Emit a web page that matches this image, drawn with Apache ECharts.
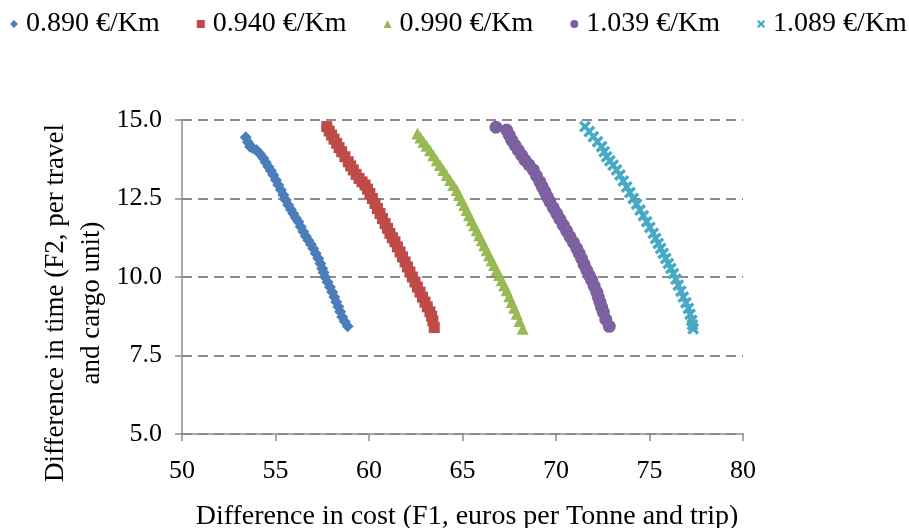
<!DOCTYPE html>
<html>
<head>
<meta charset="utf-8">
<script src="https://cdn.jsdelivr.net/npm/echarts@6/dist/echarts.min.js"></script>
<style>
html,body{margin:0;padding:0;background:#fff;}
#chart{width:909px;height:528px;}
</style>
</head>
<body>
<div id="chart"></div>
<script>
var seriesNames = ['0.890 €/Km', '0.940 €/Km', '0.990 €/Km', '1.039 €/Km', '1.089 €/Km'];
var xTicks = [50, 55, 60, 65, 70, 75, 80];
var yTicks = [5.0, 7.5, 10.0, 12.5, 15.0];

var s0890 = [[53.41,14.45],[53.52,14.30],[53.64,14.15],[53.80,14.10],[53.99,14.04],[54.17,13.92],[54.35,13.78],[54.48,13.65],[54.62,13.51],[54.75,13.38],[54.88,13.25],[55.02,13.09],[55.15,12.93],[55.29,12.77],[55.42,12.61],[55.55,12.45],[55.68,12.29],[55.82,12.15],[55.95,12.02],[56.08,11.89],[56.22,11.76],[56.35,11.60],[56.49,11.44],[56.62,11.30],[56.75,11.17],[56.89,11.04],[57.02,10.91],[57.15,10.75],[57.29,10.59],[57.40,10.43],[57.50,10.27],[57.57,10.14],[57.65,10.00],[57.78,9.84],[57.91,9.68],[58.03,9.52],[58.15,9.36],[58.25,9.20],[58.36,9.05],[58.46,8.89],[58.57,8.73],[58.70,8.58],[58.86,8.43]];
var s0940 = [[57.74,14.79],[57.87,14.65],[58.00,14.52],[58.13,14.39],[58.27,14.26],[58.40,14.12],[58.54,13.99],[58.71,13.83],[58.89,13.67],[59.02,13.54],[59.16,13.41],[59.31,13.27],[59.47,13.14],[59.63,13.03],[59.79,12.93],[59.92,12.80],[60.05,12.66],[60.18,12.50],[60.32,12.34],[60.45,12.18],[60.59,12.02],[60.72,11.86],[60.86,11.70],[60.99,11.55],[61.12,11.39],[61.25,11.25],[61.39,11.12],[61.52,10.96],[61.66,10.80],[61.79,10.64],[61.93,10.48],[62.06,10.32],[62.19,10.16],[62.32,10.00],[62.46,9.84],[62.59,9.68],[62.73,9.52],[62.86,9.36],[62.99,9.20],[63.12,9.05],[63.26,8.89],[63.35,8.75],[63.42,8.60],[63.49,8.39]];
var s0990 = [[62.59,14.57],[62.75,14.44],[62.91,14.31],[63.08,14.18],[63.26,14.04],[63.44,13.88],[63.62,13.72],[63.79,13.57],[63.97,13.41],[64.15,13.25],[64.33,13.09],[64.51,12.93],[64.69,12.77],[64.82,12.61],[64.96,12.45],[65.09,12.29],[65.22,12.13],[65.35,11.97],[65.49,11.81],[65.62,11.65],[65.76,11.49],[65.89,11.33],[66.03,11.17],[66.16,11.01],[66.29,10.85],[66.42,10.69],[66.56,10.53],[66.69,10.38],[66.83,10.22],[66.96,10.06],[67.10,9.90],[67.23,9.74],[67.36,9.58],[67.50,9.39],[67.63,9.20],[67.76,9.02],[67.90,8.83],[68.05,8.60],[68.22,8.35]];
var s1039 = [[66.79,14.77],[67.36,14.68],[67.50,14.52],[67.63,14.36],[67.80,14.20],[67.98,14.04],[68.16,13.88],[68.34,13.72],[68.56,13.57],[68.79,13.41],[68.96,13.22],[69.14,13.03],[69.27,12.87],[69.41,12.71],[69.54,12.55],[69.68,12.39],[69.86,12.20],[70.04,12.02],[70.21,11.84],[70.39,11.65],[70.57,11.47],[70.75,11.28],[70.93,11.10],[71.11,10.91],[71.24,10.75],[71.37,10.59],[71.50,10.40],[71.64,10.22],[71.77,10.06],[71.91,9.90],[72.04,9.71],[72.18,9.52],[72.26,9.36],[72.35,9.20],[72.44,9.04],[72.53,8.88],[72.66,8.65],[72.85,8.43]];
var s1089 = [[71.55,14.79],[71.78,14.63],[72.00,14.47],[72.22,14.31],[72.44,14.15],[72.58,13.99],[72.71,13.83],[72.88,13.70],[73.06,13.56],[73.24,13.41],[73.42,13.25],[73.60,13.06],[73.78,12.87],[73.95,12.69],[74.13,12.50],[74.31,12.32],[74.49,12.13],[74.67,11.95],[74.85,11.76],[75.02,11.58],[75.20,11.39],[75.33,11.23],[75.47,11.07],[75.60,10.91],[75.74,10.75],[75.87,10.59],[76.01,10.43],[76.14,10.27],[76.28,10.11],[76.41,9.93],[76.54,9.74],[76.68,9.55],[76.81,9.36],[76.95,9.18],[77.08,9.00],[77.17,8.81],[77.26,8.62],[77.30,8.48],[77.34,8.35]];

var seriesData = [s0890, s0940, s0990, s1039, s1089];
var colors = ['#4A7EBB', '#BE4B48', '#98B954', '#7D60A0', '#46AAC5'];
var symbols = ['diamond', 'rect', 'triangle', 'circle',
  'path://M2,0 L5,3 L8,0 L10,2 L7,5 L10,8 L8,10 L5,7 L2,10 L0,8 L3,5 L0,2 Z'];
var sizes = [12, 11, 12, 13, 12];

var FONT = '"Liberation Serif", "Times New Roman", serif';

var chart = echarts.init(document.getElementById('chart'), null, {renderer: 'canvas'});
var option = {
  animation: false,
  backgroundColor: '#fff',
  color: colors,
  legend: {
    left: 10,
    top: 10,
    width: 905,
    padding: 0,
    itemWidth: 8,
    itemHeight: 8,
    itemGap: 37,
    textStyle: {fontFamily: FONT, fontSize: 28, color: '#000', padding: [0, 0, 0, 3]},
    data: seriesNames
  },
  grid: {left: 182, right: 166, top: 120, bottom: 94, containLabel: false, outerBoundsMode: 'none'},
  xAxis: {
    type: 'value',
    min: xTicks[0],
    max: xTicks[xTicks.length - 1],
    interval: 5,
    name: 'Difference in cost (F1, euros per Tonne and trip)',
    nameLocation: 'middle',
    nameGap: 69,
    nameTextStyle: {fontFamily: FONT, fontSize: 28, color: '#000', padding: [0, 0, 0, 9]},
    axisLine: {lineStyle: {color: '#8C8C8C', width: 1.5}},
    axisTick: {show: true, length: 7, lineStyle: {color: '#8C8C8C', width: 1.5}},
    axisLabel: {fontFamily: FONT, fontSize: 26, color: '#000', margin: 24},
    splitLine: {show: false}
  },
  yAxis: {
    type: 'value',
    min: yTicks[0],
    max: yTicks[yTicks.length - 1],
    interval: 2.5,
    axisLine: {show: true, lineStyle: {color: '#8C8C8C', width: 1.5}},
    axisTick: {show: true, length: 7, lineStyle: {color: '#8C8C8C', width: 1.5}},
    axisLabel: {fontFamily: FONT, fontSize: 26, color: '#000', margin: 20,
      formatter: function (v) { return v.toFixed(1); }},
    splitLine: {show: true, lineStyle: {color: '#8C8C8C', width: 2, type: [10, 6]}}
  },
  graphic: [{
    type: 'text',
    x: 56,
    y: 303,
    rotation: Math.PI / 2,
    style: {
      text: 'Difference in time (F2, per travel',
      font: '27px ' + FONT,
      fill: '#000',
      align: 'center',
      verticalAlign: 'middle'
    }
  }, {
    type: 'text',
    x: 92,
    y: 303,
    rotation: Math.PI / 2,
    style: {
      text: 'and cargo unit)',
      font: '27px ' + FONT,
      fill: '#000',
      align: 'center',
      verticalAlign: 'middle'
    }
  }],
  series: seriesNames.map(function (n, i) {
    return {
      name: n,
      type: 'scatter',
      data: seriesData[i],
      symbol: symbols[i],
      symbolSize: sizes[i],
      itemStyle: {color: colors[i], opacity: 1}
    };
  })
};
chart.setOption(option);
</script>
</body>
</html>
